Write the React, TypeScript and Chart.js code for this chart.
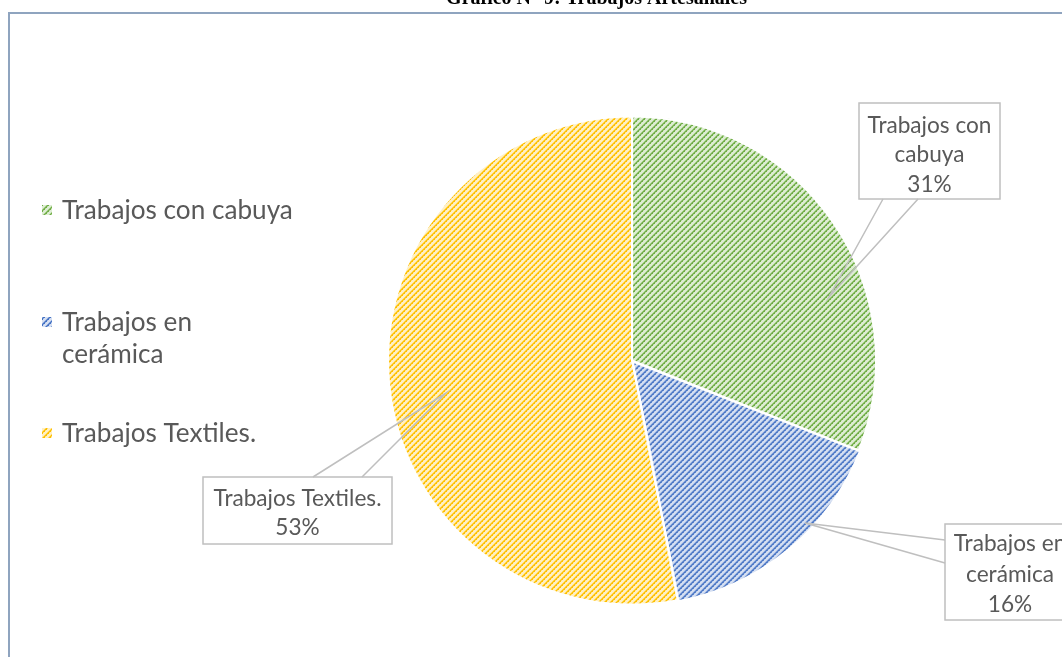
import React, { useEffect, useRef } from "react";
import { Chart, registerables } from "chart.js";

Chart.register(...registerables);

const titleText = "Gráfico N° 9: Trabajos Artesanales";
const categories = ["Trabajos con cabuya", "Trabajos en cerámica", "Trabajos Textiles."];
const values = [31, 16, 53];
const darkColors = ["#70AD47", "#4472C4", "#FFC000"];
const midColors = ["#A9D08E", "#8EA9DB", "#FFD966"];
const lightColors = ["#DDEDD3", "#D6E0F2", "#FFF0C4"];
const sliceOffsets = [0, 5, 0];

const FONT = "Lato, 'Open Sans', sans-serif";
const TEXT_COLOR = "#595959";
const LINE_COLOR = "#BFBFBF";

function makePattern(ctx: CanvasRenderingContext2D, dark: string, mid: string, light: string) {
  const N = 6;
  const c = document.createElement("canvas");
  c.width = N;
  c.height = N;
  const g = c.getContext("2d")!;
  for (let x = 0; x < N; x++) {
    for (let y = 0; y < N; y++) {
      const k = (x + y) % N;
      g.fillStyle = k === 0 ? dark : k === 1 ? mid : k === N - 1 ? mid : light;
      g.fillRect(x, y, 1, 1);
    }
  }
  // dotted accents along the stripe
  for (let x = 0; x < N; x += 2) {
    const y = (N - x) % N;
    g.fillStyle = dark;
    g.fillRect(x, (y + 1) % N, 1, 1);
  }
  return ctx.createPattern(c, "repeat") as CanvasPattern;
}

function fitSize(ctx: CanvasRenderingContext2D, text: string, target: number) {
  ctx.font = `100px ${FONT}`;
  return (100 * target) / ctx.measureText(text).width;
}

function wrap(ctx: CanvasRenderingContext2D, text: string, maxW: number) {
  const words = text.split(" ");
  const lines: string[] = [];
  let cur = "";
  for (const w of words) {
    const t = cur ? cur + " " + w : w;
    if (cur && ctx.measureText(t).width > maxW) {
      lines.push(cur);
      cur = w;
    } else cur = t;
  }
  if (cur) lines.push(cur);
  return lines;
}

type Callout = {
  x: number; y: number; w: number; h: number;
  a: [number, number]; b: [number, number]; tip: [number, number];
  cx: number; cy: number; lh: number;
};

const callouts: Callout[] = [
  { x: 859, y: 103, w: 141, h: 96, a: [883, 199], b: [918, 199], tip: [829, 297], cx: 929.5, cy: 154, lh: 29.5 },
  { x: 945, y: 524, w: 130, h: 96, a: [945, 540], b: [945, 563], tip: [805, 523], cx: 1010, cy: 573.5, lh: 30.5 },
  { x: 203, y: 477, w: 189, h: 67, a: [313, 477], b: [362, 477], tip: [446, 393], cx: 297.5, cy: 512.5, lh: 29 },
];

const legendCenters = [210, 338, 433];

export default function App() {
  const ref = useRef<HTMLCanvasElement>(null);

  useEffect(() => {
    const canvas = ref.current!;
    const ctx = canvas.getContext("2d")!;
    const patterns = values.map((_, i) => makePattern(ctx, darkColors[i], midColors[i], lightColors[i]));
    const total = values.reduce((a, b) => a + b, 0);

    const decor = {
      id: "decor",
      afterDraw(chart: any) {
        const c: CanvasRenderingContext2D = chart.ctx;
        c.save();
        // frame
        c.strokeStyle = "#8FA4BF";
        c.lineWidth = 2;
        c.strokeRect(9, 13, 3000, 3000);
        // title (mostly cut off at the top of the page)
        c.fillStyle = "#000";
        c.font = `bold 20px 'Liberation Serif', serif`;
        c.textAlign = "right";
        c.textBaseline = "alphabetic";
        c.fillText(titleText, 747, 4);

        // legend
        const ls = fitSize(c, categories[0], 231);
        c.font = `${ls}px ${FONT}`;
        c.textAlign = "left";
        c.textBaseline = "middle";
        const lineH = 32;
        categories.forEach((name, i) => {
          const lines = wrap(c, name, 234);
          const y0 = legendCenters[i] - ((lines.length - 1) * lineH) / 2;
          c.fillStyle = patterns[i];
          c.fillRect(42, y0 - 5, 10, 10);
          c.fillStyle = TEXT_COLOR;
          lines.forEach((ln, j) => c.fillText(ln, 62, y0 + j * lineH + 1));
        });

        // callouts
        const cs = fitSize(c, categories[2], 168);
        callouts.forEach((co, i) => {
          c.fillStyle = "#FFFFFF";
          c.fillRect(co.x, co.y, co.w, co.h);
          c.strokeStyle = LINE_COLOR;
          c.lineWidth = 1.5;
          c.strokeRect(co.x, co.y, co.w, co.h);
          c.beginPath();
          c.moveTo(co.a[0], co.a[1]);
          c.lineTo(co.tip[0], co.tip[1]);
          c.lineTo(co.b[0], co.b[1]);
          c.stroke();
          c.font = `${cs}px ${FONT}`;
          c.fillStyle = TEXT_COLOR;
          c.textAlign = "center";
          c.textBaseline = "middle";
          const lines = wrap(c, categories[i], co.w - 12);
          lines.push(Math.round((values[i] / total) * 100) + "%");
          const y0 = co.cy - ((lines.length - 1) * co.lh) / 2;
          lines.forEach((ln, j) => c.fillText(ln, co.cx, y0 + j * co.lh + 1));
        });
        c.restore();
      },
    };

    const chart = new Chart(canvas, {
      type: "pie",
      data: {
        labels: categories,
        datasets: [
          {
            data: values,
            backgroundColor: patterns,
            borderColor: "#FFFFFF",
            borderWidth: 2,
            offset: sliceOffsets,
            radius: 244,
          } as any,
        ],
      },
      options: {
        responsive: false,
        devicePixelRatio: 1,
        animation: false,
        layout: { padding: { left: 300, right: 98, top: 100, bottom: 36 } },
        plugins: {
          legend: { display: false },
          tooltip: { enabled: false },
          title: { display: false },
        },
        events: [],
      } as any,
      plugins: [decor],
    });
    return () => chart.destroy();
  }, []);

  return (
    <div style={{ position: "fixed", left: 0, top: 0, width: 1062, height: 657, background: "#fff" }}>
      <canvas ref={ref} width={1062} height={657} style={{ display: "block" }} />
    </div>
  );
}
